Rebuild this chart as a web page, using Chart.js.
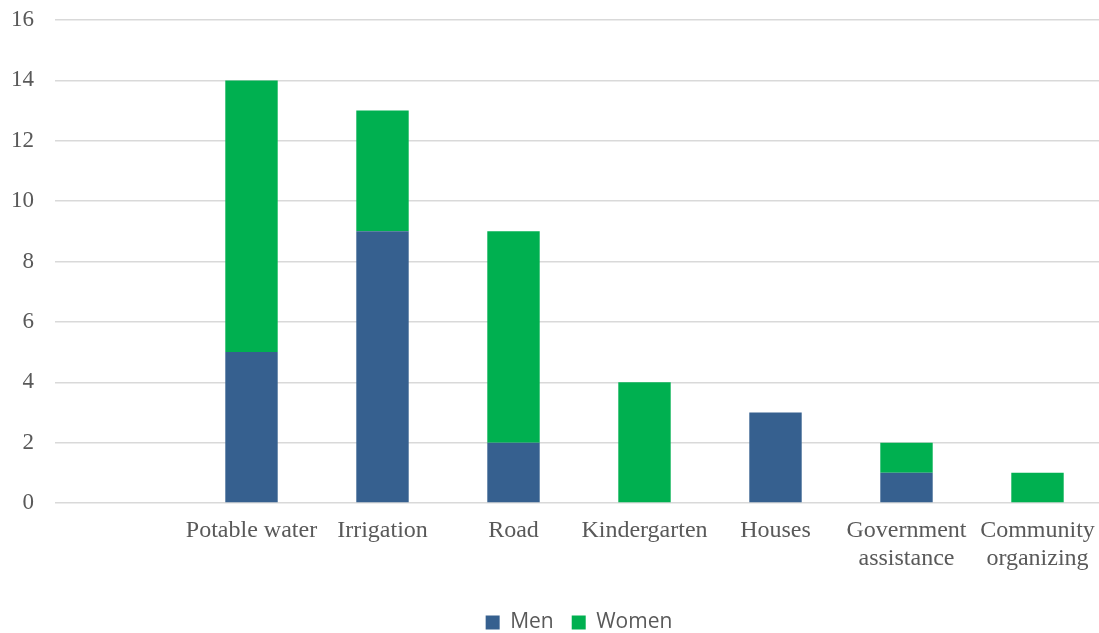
<!DOCTYPE html>
<html>
<head>
<meta charset="utf-8">
<script src="https://cdn.jsdelivr.net/npm/chart.js@4/dist/chart.umd.min.js"></script>
<style>
html,body{margin:0;padding:0;overflow:hidden;background:#fff;}
#wrap{width:1103px;height:633px;position:relative;}
</style>
</head>
<body>
<div id="wrap"><canvas id="c"></canvas></div>
<script>
const categories = ["", "Potable water", "Irrigation", "Road", "Kindergarten", "Houses", ["Government", "assistance"], ["Community", "organizing"]];
const menValues = [null, 5, 9, 2, 0, 3, 1, 0];
const womenValues = [null, 9, 4, 7, 4, 0, 1, 1];
const yTicks = [0, 2, 4, 6, 8, 10, 12, 14, 16];

const legendToPlot = {
  id: 'legendToPlot',
  afterLayout(chart) {
    const l = chart.legend;
    if (l) { l.left = chart.chartArea.left; l.width = l.right - l.left; }
  }
};

new Chart(document.getElementById('c'), {
  type: 'bar',
  data: {
    labels: categories,
    datasets: [
      { label: 'Men', data: menValues, backgroundColor: '#36608f', borderWidth: 0 },
      { label: 'Women', data: womenValues, backgroundColor: '#00b050', borderWidth: 0 }
    ]
  },
  plugins: [legendToPlot],
  options: {
    responsive: true,
    maintainAspectRatio: false,
    animation: false,
    layout: { padding: { top: 20, bottom: -10, left: 0, right: 0 } },
    datasets: { bar: { categoryPercentage: 1.0, barPercentage: 0.4 } },
    scales: {
      x: {
        stacked: true,
        grid: { display: false, drawTicks: false },
        border: { display: false },
        ticks: {
          color: '#595959',
          font: { family: '"Liberation Serif", "Times New Roman", serif', size: 24, lineHeight: 1.17 },
          padding: 14,
          maxRotation: 0,
          autoSkip: false
        },
        afterFit: (s) => { s.height = 91; s.paddingLeft = 0; s.paddingRight = 0; }
      },
      y: {
        stacked: true,
        min: 0,
        max: 16,
        afterBuildTicks: (s) => { s.ticks = yTicks.map(v => ({ value: v })); },
        grid: { color: '#d9d9d9', lineWidth: 1.5, drawTicks: false },
        border: { display: false },
        ticks: {
          color: '#595959',
          font: { family: '"Liberation Serif", "Times New Roman", serif', size: 23 },
          padding: 21
        },
        afterFit: (s) => { s.width = 55; s.paddingTop = 0; s.paddingBottom = 0; }
      }
    },
    plugins: {
      legend: {
        position: 'bottom',
        labels: {
          boxWidth: 14,
          boxHeight: 14,
          padding: 18,
          color: '#595959',
          font: { family: '"Open Sans", sans-serif', size: 21 }
        }
      },
      tooltip: { enabled: false }
    }
  }
});
</script>
</body>
</html>
